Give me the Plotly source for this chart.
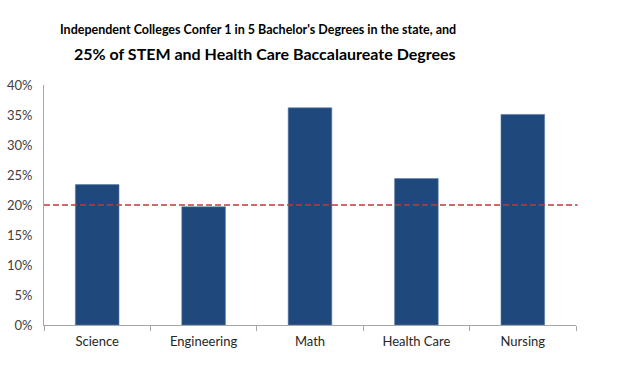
import plotly.graph_objects as go

categories = ["Science", "Engineering", "Math", "Health Care", "Nursing"]
shares = [0.234, 0.197, 0.362, 0.244, 0.351]
state_share = 0.20
y_ticks = [0, 0.05, 0.10, 0.15, 0.20, 0.25, 0.30, 0.35, 0.40]
y_tick_labels = ["0%", "5%", "10%", "15%", "20%", "25%", "30%", "35%", "40%"]
title_line1 = "Independent Colleges Confer 1 in 5 Bachelor's Degrees in the state, and"
title_line2 = "25% of STEM and Health Care Baccalaureate Degrees"

FONT = "Lato, Carlito, Calibri, sans-serif"

fig = go.Figure()
fig.add_trace(go.Bar(
    x=categories, y=shares,
    marker=dict(color="#1F497D", line=dict(color="#5b7ba6", width=0.6)),
    width=0.41,
    hoverinfo="skip",
))

fig.add_shape(type="line", xref="paper", yref="y", x0=0, x1=1.003,
              y0=state_share, y1=state_share,
              line=dict(color="#C0393A", width=1.6, dash="6px,3px"))

fig.add_annotation(text="<b>" + title_line1 + "</b>", xref="paper", yref="paper", x=0.403, y=1.0,
                   yshift=56, showarrow=False,
                   font=dict(family=FONT, size=12.5, color="#000000"), xanchor="center", yanchor="middle")
fig.add_annotation(text="<b>" + title_line2 + "</b>", xref="paper", yref="paper", x=0.416, y=1.0,
                   yshift=32, showarrow=False,
                   font=dict(family=FONT, size=16, color="#000000"), xanchor="center", yanchor="middle")

fig.update_layout(
    width=621, height=367,
    margin=dict(l=44, r=45, t=85, b=42, autoexpand=False),
    paper_bgcolor="white", plot_bgcolor="white",
    showlegend=False,
    font=dict(family=FONT, size=13, color="#404040"),
    bargap=0.59,
)
fig.update_xaxes(
    showline=True, linecolor="#A6A6A6", linewidth=1, automargin=False,
    ticks="outside", tickson="boundaries", ticklen=5, tickcolor="#A6A6A6",
    ticklabelstandoff=4,
    showgrid=False, tickfont=dict(family=FONT, size=13, color="#262626"),
)
fig.update_yaxes(
    range=[0, 0.40], tickvals=y_ticks, ticktext=y_tick_labels, automargin=False,
    showline=True, linecolor="#A6A6A6", linewidth=1,
    showgrid=False, zeroline=False, ticks="", ticklabelstandoff=8,
    tickfont=dict(family=FONT, size=13, color="#404040"),
)

fig.write_html("out.html", config={"displayModeBar": False},
               post_script="document.body.style.margin='0';")
